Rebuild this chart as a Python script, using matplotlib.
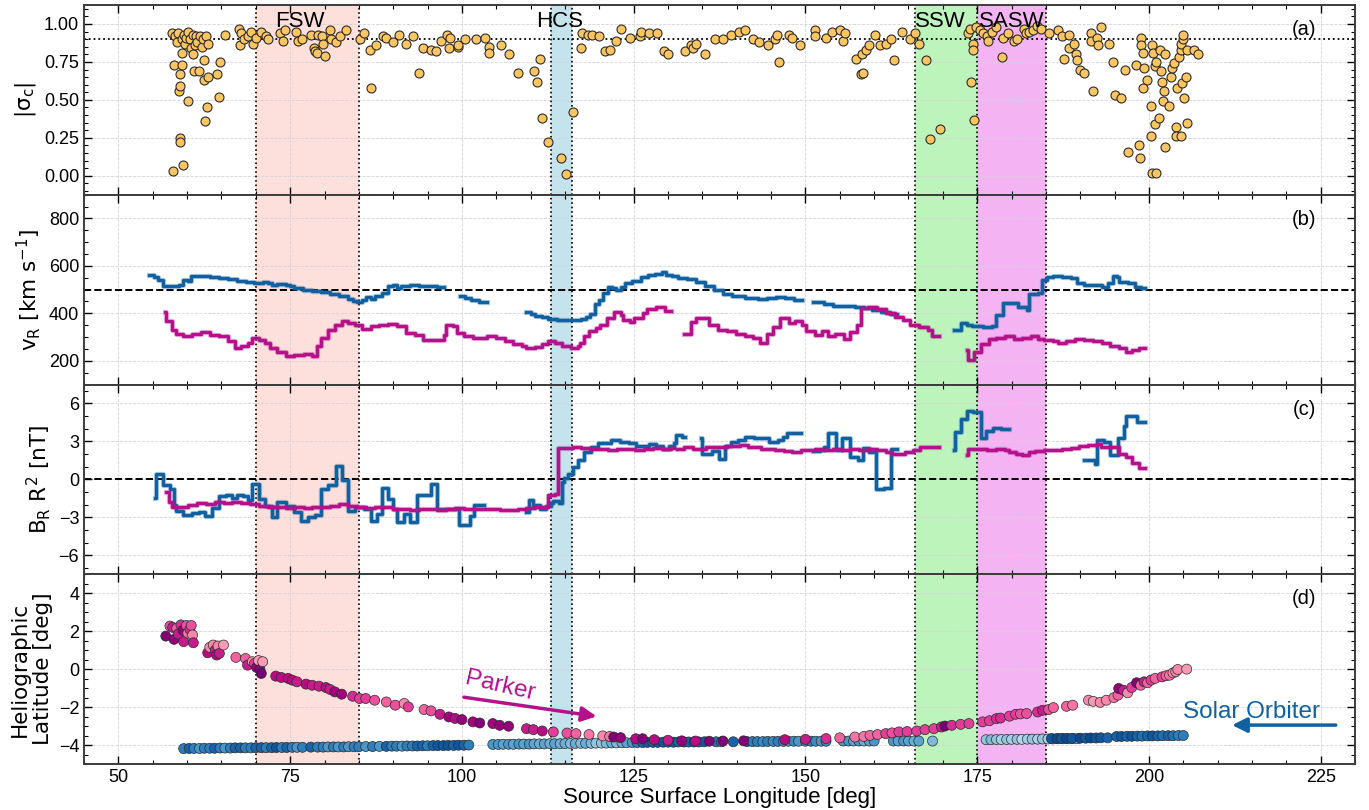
import numpy as np
import matplotlib
matplotlib.use("Agg")
import matplotlib.pyplot as plt
import matplotlib.patheffects as pe
from matplotlib.ticker import AutoMinorLocator, FormatStrFormatter

nan = np.nan

# ---- (a) cross helicity |sigma_c| ----
sig_lon = [57.8, 58.0, 58.1, 58.3, 58.5, 58.7, 58.8, 58.9, 58.9, 59.0, 59.0, 59.2, 59.2, 59.3, 59.4,
           59.5, 59.7, 59.9, 60.1, 60.2, 60.4, 60.6, 60.8, 60.9, 61.0, 61.1, 61.3, 61.5, 61.7, 61.9,
           62.1, 62.3, 62.5, 62.5, 62.6, 62.8, 62.9, 63.1, 63.1, 64.3, 64.7, 64.8, 65.5,
           67.5, 67.7, 67.9, 68.3, 68.8, 69.3, 69.6, 70.0, 70.8, 71.5, 71.8, 73.5, 73.9, 74.2, 75.8,
           76.2, 76.7, 78.1, 78.4, 78.6, 78.9, 79.1, 79.6, 79.8, 80.1, 80.8, 81.0, 81.7, 82.2, 83.2,
           85.1, 85.8, 86.6, 86.8, 87.5, 88.5, 89.0, 90.0, 90.9, 91.9, 92.9, 93.7, 94.4, 95.5, 96.2,
           97.0, 97.9, 98.1, 98.3, 99.4, 99.5, 100.4, 102.0, 103.4, 103.9, 103.9, 105.7, 106.8, 108.2,
           110.5, 110.9, 111.4, 111.7, 112.5, 114.4, 115.1, 116.2, 117.3, 117.5, 118.3, 118.9, 120.0,
           120.8, 121.5, 122.4, 123.1, 124.4, 125.9, 126.1, 127.2, 128.4, 129.4, 130.0, 132.4, 133.4,
           133.7, 134.0, 135.4, 136.8, 138.0, 139.2, 140.3, 141.2, 142.3, 143.3, 144.6, 145.6, 145.8,
           146.2, 147.6, 148.1, 149.2, 151.4, 151.4, 153.0, 153.8, 155.0, 155.4, 155.8, 157.4, 158.1,
           158.3, 158.4, 158.8, 159.2, 160.2, 160.8, 161.8, 162.4, 162.9,
           164.1, 165.2, 165.9, 166.6, 167.5, 168.1, 169.6, 173.6, 173.9, 174.1, 174.4, 174.4, 174.5,
           174.9, 175.4, 175.9, 176.4, 176.6, 177.1, 177.8, 178.6, 178.8, 179.5, 180.4, 180.8, 181.8,
           182.1, 182.6, 183.1, 183.7, 184.3, 185.5, 186.7, 187.3, 187.7, 188.3, 188.4, 189.1, 189.4,
           189.5, 189.9, 190.5, 191.5, 191.6, 191.8, 192.5, 192.6, 193.0, 194.2, 194.7, 195.1, 195.9,
           196.5, 196.9, 198.1, 198.6, 198.7, 198.8, 198.8, 199.1, 199.3, 199.7, 199.1, 200.3, 200.3,
           200.4, 201.1, 200.5, 200.6, 200.9, 201.5, 200.9, 201.1, 201.6, 201.7, 201.9, 202.0, 202.2,
           202.3, 202.3, 202.9, 203.2, 203.4, 203.7, 203.9, 204.0, 204.1, 204.4, 204.6, 204.6, 204.7,
           204.9, 205.0, 204.8, 205.1, 205.4, 205.5, 205.6, 206.5, 207.1]
sig_val = [0.94, 0.03, 0.73, 0.92, 0.88, 0.94, 0.56, 0.59, 0.25, 0.22, 0.67, 0.73, 0.81, 0.90, 0.07,
           0.93, 0.87, 0.91, 0.49, 0.95, 0.90, 0.84, 0.93, 0.80, 0.69, 0.86, 0.92, 0.88, 0.69, 0.92,
           0.85, 0.90, 0.76, 0.63, 0.36, 0.92, 0.45, 0.65, 0.87, 0.67, 0.52, 0.75, 0.93,
           0.97, 0.86, 0.94, 0.90, 0.92, 0.95, 0.87, 0.91, 0.95, 0.92, 0.90, 0.94, 0.89, 0.96, 0.95,
           0.89, 0.90, 0.93, 0.84, 0.82, 0.81, 0.93, 0.92, 0.87, 0.79, 0.96, 0.90, 0.88, 0.92, 0.96,
           0.90, 0.94, 0.83, 0.58, 0.86, 0.92, 0.91, 0.88, 0.93, 0.87, 0.92, 0.68, 0.84, 0.83, 0.82,
           0.89, 0.93, 0.84, 0.91, 0.85, 0.86, 0.90, 0.90, 0.91, 0.85, 0.81, 0.86, 0.80, 0.68,
           0.69, 0.62, 0.77, 0.38, 0.22, 0.12, 0.01, 0.42, 0.84, 0.94, 0.93, 0.93, 0.92,
           0.82, 0.83, 0.89, 0.97, 0.91, 0.92, 0.95, 0.94, 0.94, 0.82, 0.80, 0.82, 0.86,
           0.84, 0.87, 0.80, 0.90, 0.90, 0.93, 0.95, 0.96, 0.90, 0.88, 0.86, 0.90, 0.93,
           0.75, 0.93, 0.91, 0.86, 0.96, 0.92, 0.91, 0.95, 0.96, 0.89, 0.94, 0.77, 0.67,
           0.80, 0.68, 0.83, 0.86, 0.93, 0.86, 0.87, 0.90, 0.76,
           0.95, 0.90, 0.94, 0.87, 0.76, 0.24, 0.31, 0.94, 0.97, 0.62, 0.87, 0.83, 0.37,
           0.98, 0.96, 0.94, 0.92, 0.89, 0.95, 0.98, 0.78, 0.91, 0.94, 0.89, 0.90, 0.97,
           0.94, 0.95, 0.96, 0.99, 0.97, 0.94, 0.96, 0.92, 0.77, 0.84, 0.93, 0.87, 0.80,
           0.76, 0.70, 0.68, 0.94, 0.89, 0.56, 0.91, 0.86, 0.98, 0.87, 0.75, 0.53, 0.51,
           0.70, 0.16, 0.73, 0.20, 0.12, 0.91, 0.86, 0.81, 0.71, 0.63, 0.58, 0.46, 0.26,
           0.02, 0.02, 0.86, 0.81, 0.34, 0.38, 0.72, 0.75, 0.83, 0.69, 0.62, 0.49, 0.56,
           0.19, 0.80, 0.46, 0.65, 0.71, 0.74, 0.32, 0.26, 0.58, 0.78, 0.83, 0.26, 0.87,
           0.90, 0.93, 0.61, 0.51, 0.65, 0.35, 0.83, 0.83, 0.80]

# ---- (b) radial speed, step profiles (nan = data gap) ----
vr_lon_so = [54.5, 55.2, 55.8, 56.5, 57.6, 58.8, 59.4, 60.1, 60.6, 61.7, 63.3, 64.6, 65.9, 67.2, 68.5,
             69.8, 71.1, 71.8, 72.4, 73.1, 74.4, 75.0, 75.6, 76.9, 78.2, 79.5, 80.8, 82.1, 83.4, 84.1,
             84.7, 85.4, 86.0, 86.7, 87.3, 88.3, 89.3, 89.9, 90.6, 91.2, 92.5, 93.8, 95.1, 96.4, 97.4,
             99.7, 100.5, 101.3, 102.5, 103.6,
             109.4, 110.1, 110.7, 111.6, 112.6, 113.9, 115.2, 116.4, 117.4, 118.0, 118.7, 119.3, 120.0,
             120.6, 121.3, 121.9, 122.5, 123.2, 123.8, 124.8, 126.1, 127.1, 128.1, 129.1, 129.7, 130.6,
             131.5, 132.8, 134.1, 135.4, 136.7, 138.0, 139.3, 141.2, 143.1, 144.4, 145.7, 147.0, 148.3,
             149.5,
             151.1, 152.7, 154.0, 155.9, 157.2, 158.5, 159.7, 161.0, 162.3, 163.3,
             171.6, 172.6, 173.5, 174.2, 175.8, 177.2, 177.7, 178.7, 180.3, 180.9, 182.2, 182.5, 183.8,
             184.4, 185.1, 186.0, 187.3, 188.6, 189.6, 190.5, 191.8, 193.1, 194.1, 194.7, 195.3, 195.6,
             196.9, 197.9, 198.8, 199.5]
vr_so = [563, 553, 542, 514, 517, 520, 542, 535, 559, 556, 553, 549, 543, 535, 531,
         528, 531, 526, 521, 525, 518, 514, 507, 500, 495, 489, 482, 475, 462, 451,
         446, 458, 469, 462, 475, 486, 514, 521, 507, 514, 521, 517, 514, 510, nan,
         475, 465, 455, 446, nan,
         406, 398, 390, 384, 376, 373, 373, 370, 375, 384, 398, 440, 458,
         485, 513, 507, 500, 510, 530, 535, 553, 560, 565, 575, 563, 556,
         550, 545, 531, 514, 500, 483, 475, 465, 460, 465, 469, 465, 458,
         nan,
         449, 441, 432, 432, 427, 422, 413, 404, 398, nan,
         328, 359, 352, 345, 342, 345, 393, 445, 442, 428, 414, 482, 485,
         541, 552, 558, 552, 548, 527, 520, 520, 513, 527, 558, 552, 534,
         527, 513, 509, nan]

vr_lon_psp = [56.8, 56.95, 57.8, 58.4, 59.4, 60.7, 62.0, 63.3, 64.6, 65.9, 66.9, 67.9, 68.8, 69.5,
              70.5, 71.4, 72.1, 73.1, 74.4, 75.6, 77.0, 78.2, 78.9, 79.5, 80.5, 81.5, 82.5, 83.4,
              84.4, 85.4, 86.7, 88.0, 89.3, 90.6, 91.8, 93.1, 94.4, 96.4, 97.4, 97.7, 98.7, 99.3,
              100.3, 101.6, 102.9, 103.6, 104.9, 106.2, 107.5, 108.8, 109.4, 110.7, 111.7, 112.6,
              113.6, 114.6, 115.9, 116.9, 117.2, 117.8, 118.5, 119.5, 120.1, 121.1, 122.1, 123.1,
              123.4, 124.4, 125.1, 126.4, 127.0, 128.3, 129.6, 130.5,
              132.3, 133.3, 134.1, 135.4, 136.0, 137.3, 138.6, 139.9, 141.2, 142.4, 143.4, 144.4,
              145.3, 146.3, 147.6, 148.5, 149.5, 150.1, 151.4, 152.4, 153.3, 154.3, 155.6, 156.5,
              157.5, 158.1, 159.1, 160.4, 161.7, 163.0, 164.2, 165.2, 166.5, 167.8, 168.4, 169.5,
              173.5, 173.7, 174.6, 175.6, 176.7, 177.7, 179.0, 180.3, 181.5, 182.8, 183.8, 184.7,
              186.0, 186.7, 187.9, 189.2, 190.5, 191.8, 193.1, 194.4, 195.6, 196.6, 197.6, 198.5,
              199.5]
vr_psp = [404, 366, 331, 314, 303, 314, 320, 310, 303, 282, 254, 261, 275, 296,
          289, 275, 254, 239, 221, 225, 229, 221, 261, 296, 331, 352, 366, 359,
          352, 334, 345, 352, 356, 345, 317, 310, 286, 286, 310, 352, 345, 317,
          303, 296, 296, 303, 296, 282, 272, 264, 254, 258, 272, 282,
          275, 261, 254, 261, 275, 303, 324, 338, 352, 380, 404, 394,
          373, 362, 380, 401, 418, 427, 412, nan,
          314, 362, 380, 380, 352, 331, 324, 314, 303, 296, 275, 314,
          342, 380, 359, 369, 352, 324, 310, 324, 306, 314, 292, 320,
          352, 422, 427, 418, 401, 384, 370, 352, 342, 328, 303, nan,
          244, 204, 235, 272, 292, 296, 303, 292, 296, 303, 292, 286,
          282, 275, 282, 292, 286, 282, 275, 261, 254, 235, 244, 254,
          nan]

# ---- (c) scaled radial field B_R R^2 ----
br_lon_so = [55.3, 55.4, 56.5, 57.5, 58.1, 58.4, 59.4, 60.7, 61.7, 62.6, 63.6, 64.6, 65.6, 66.6, 67.2,
             68.2, 68.8, 69.5, 70.5, 71.4, 72.4, 73.1, 74.4, 75.6, 76.6, 77.6, 78.6, 79.5, 80.5, 81.6,
             82.5, 83.4, 84.4, 85.7, 86.7, 87.7, 88.3, 89.3, 89.9, 90.6, 91.6, 92.5, 93.5, 95.5, 96.4,
             98.3, 99.6, 101.2, 101.8, 103.2,
             109.4, 109.7, 110.4, 111.3, 112.3, 112.9, 113.2, 114.2, 114.5, 114.9, 115.5, 116.2, 116.9,
             117.8, 118.8, 119.8, 120.7, 121.7, 123.0, 124.3, 125.3, 126.2, 127.2, 128.2, 129.2, 130.2,
             130.8, 131.1, 132.1, 132.5,
             134.8, 134.9, 136.4, 137.4, 138.3, 139.1, 140.2, 141.2, 142.5, 143.8, 144.7, 146.0, 146.7,
             147.3, 148.3, 149.4,
             151.1, 152.1, 152.7, 153.3, 154.5, 155.3, 156.5, 157.6, 158.4, 159.3, 160.3, 161.4, 162.4,
             163.4,
             171.6, 171.8, 172.6, 173.5, 174.4, 175.6, 176.3, 177.3, 178.5, 179.6,
             190.5, 192.1, 192.4, 193.4, 194.4, 195.5, 196.3, 196.6, 198.2, 199.5]
br_so = [-1.46, 0.45, -0.48, -0.74, -2.0, -2.52, -2.79, -2.68, -2.6, -2.87, -2.26, -1.35, -1.2, -1.46, -1.27,
         -1.35, -1.62, -0.35, -1.54, -2.07, -3.0, -1.8, -2.07, -2.6, -3.27, -3.0, -2.79, -0.74, -0.48, 1.04,
         -0.03, -2.52, -2.2, -2.34, -3.27, -2.73, -0.66, -1.54, -2.34, -3.4, -2.73, -3.4, -1.27, -0.35, -2.34,
         -2.34, -3.58, -2.87, -1.99, nan,
         -2.6, -1.62, -1.99, -2.34, -2.07, -1.9, -1.73, -1.9, -0.21, 0.13, 0.45, 0.98, 1.51,
         2.18, 2.58, 2.84, 2.9, 3.1, 2.97, 2.9, 2.63, 2.63, 2.79, 2.63, 2.44, 2.63,
         2.84, 3.5, 3.32, nan,
         3.3, 1.99, 2.26, 1.65, 2.63, 2.97, 3.1, 3.37, 3.3, 3.24, 2.97, 3.1, 3.37,
         3.69, 3.64, nan,
         2.26, 2.31, 2.58, 3.64, 2.36, 3.24, 1.73, 1.51, 2.52, 2.18, -0.74, -0.66, 2.44,
         nan,
         2.31, 3.77, 4.75, 5.44, 5.36, 3.24, 3.85, 4.04, 3.96, nan,
         1.51, 1.25, 3.1, 2.97, 1.91, 3.24, 4.2, 5.0, 4.57, nan]

br_lon_psp = [56.9, 57.4, 57.8, 58.8, 60.1, 61.4, 62.7, 64.0, 65.3, 66.6, 67.9, 69.2, 70.5, 71.8, 73.1,
              74.4, 75.7, 77.0, 78.2, 79.5, 80.8, 82.1, 83.4, 84.7, 86.0, 87.3, 88.6, 89.9, 91.2, 92.5,
              93.8, 95.1, 96.4, 97.7, 99.0, 100.3, 101.6, 102.9, 104.2, 105.5, 106.8, 108.1, 109.4,
              110.7, 112.0, 112.6, 113.6, 114.0, 116.1, 117.4, 118.7, 120.0, 121.3, 122.6, 123.9,
              125.2, 126.5, 127.8, 129.1, 130.4, 130.9,
              131.3, 132.3, 133.6, 135.6, 138.6, 140.5, 141.7, 143.6, 145.5, 146.9, 148.1, 149.4,
              151.4, 152.7, 154.0, 155.3, 156.5, 157.8, 159.1, 160.4, 161.7, 162.6, 163.5, 164.5,
              165.7, 166.7, 169.5,
              173.5, 173.6, 175.1, 176.4, 177.7, 179.0, 179.6, 180.6, 181.5, 182.5, 183.4, 184.7,
              186.0, 187.3, 188.6, 189.8, 191.1, 192.4, 193.0, 195.6, 196.6, 197.6, 198.5, 199.5]
br_psp = [-1.0, -1.8, -2.2, -2.15, -1.99, -1.88, -1.94, -1.8, -1.88, -1.8, -1.88, -1.94, -2.07, -2.15, -2.2,
          -2.26, -2.2, -2.26, -2.2, -2.15, -2.07, -1.94, -2.07, -2.15, -2.26, -2.15, -2.2, -2.34, -2.34, -2.42,
          -2.34, -2.34, -2.42, -2.34, -2.26, -2.34, -2.34, -2.34, -2.34, -2.42, -2.42, -2.34, -2.26,
          -2.2, -2.15, -1.27, -1.14, 2.52, 2.58, 2.52, 2.44, 2.44, 2.36, 2.44, 2.44,
          2.36, 2.44, 2.52, 2.44, 2.52, nan,
          2.44, 2.58, 2.44, 2.58, 2.63, 2.71, 2.58, 2.44, 2.36, 2.26, 2.18, 2.31,
          2.44, 2.36, 2.44, 2.36, 2.44, 2.36, 2.44, 2.31, 2.18, 1.99, 2.04, 2.18,
          2.31, 2.58, nan,
          1.91, 2.44, 2.44, 2.31, 2.44, 2.36, 2.18, 1.99, 1.91, 2.18, 2.26, 2.31,
          2.36, 2.44, 2.52, 2.63, 2.71, 2.79, 2.58, 1.99, 1.78, 1.3, 0.93, nan]

# ---- (d) source-surface footpoints ----
psp_lon = [56.9, 57.5, 57.9, 58.1, 58.5, 58.7, 59.1, 59.4, 59.5, 59.9, 60.1, 60.4, 60.6, 60.8, 60.9,
           63.0, 63.3, 63.8, 64.1, 64.3, 64.5, 64.7, 65.3,
           67.1, 68.5, 68.8, 69.5, 69.8, 70.1, 70.4, 70.6, 70.8, 71.0,
           72.9, 73.7, 74.7, 75.3, 76.0, 77.3, 78.2, 79.2, 80.2, 80.8, 81.5, 82.5, 84.1, 85.1, 86.0,
           87.3, 89.0, 90.3, 91.6, 92.2, 94.5, 95.5, 96.8, 98.1, 99.0, 100.0, 101.6, 102.6, 104.5,
           105.5, 106.8, 109.4, 110.4, 111.7, 113.3, 115.3, 116.6, 118.5, 120.5, 121.5, 122.1, 123.1,
           125.3, 126.3, 128.0, 130.0, 132.0, 134.0, 136.0, 138.0, 141.0, 147.0, 150.0, 153.0, 155.0,
           157.2, 158.5, 159.4, 160.5, 161.7, 162.6, 163.6, 164.8, 166.2, 167.4, 168.7, 169.8, 170.3,
           171.3, 172.6, 173.8, 175.8, 176.8, 177.8, 178.4, 179.7, 180.6, 181.3, 182.2, 183.8, 184.5,
           185.4, 186.1, 188.0, 188.9, 191.2, 191.9, 192.9, 193.8, 194.9, 195.5, 195.6, 196.3, 196.9,
           197.5, 198.2, 198.8, 199.3, 199.8, 200.3, 200.9, 201.9, 202.5, 203.0, 203.5, 203.9, 204.2,
           205.5]
psp_lat = [1.74, 2.27, 2.20, 1.57, 2.15, 1.85, 2.33, 2.05, 1.45, 2.30, 1.90, 2.10, 2.30, 1.80, 1.39,
           0.86, 1.15, 1.27, 1.00, 0.74, 1.22, 0.83, 1.27,
           0.62, 0.56, 0.21, 0.39, 0.30, 0.09, 0.45, -0.02, -0.23, 0.39,
           -0.37, -0.44, -0.49, -0.58, -0.67, -0.79, -0.85, -0.90, -0.97, -1.07, -1.20, -1.32, -1.43, -1.55, -1.55,
           -1.64, -1.73, -1.90, -1.81, -1.99, -2.13, -2.20, -2.38, -2.52, -2.60, -2.66, -2.78, -2.84, -2.87,
           -2.96, -3.01, -3.14, -3.19, -3.26, -3.31, -3.37, -3.40, -3.45, -3.52, -3.55, -3.58, -3.61,
           -3.67, -3.67, -3.72, -3.75, -3.78, -3.79, -3.80, -3.79, -3.78, -3.72, -3.70, -3.66, -3.62,
           -3.58, -3.55, -3.49, -3.45, -3.40, -3.36, -3.31, -3.29, -3.26, -3.19, -3.14, -3.05, -3.00,
           -2.96, -2.91, -2.87, -2.78, -2.72, -2.61, -2.58, -2.48, -2.38, -2.36, -2.34, -2.26, -2.17,
           -2.13, -2.03, -1.96, -1.90, -1.64, -1.70, -1.75, -1.64, -1.50, -1.37, -1.02, -1.11, -1.25,
           -0.97, -0.72, -0.85, -0.67, -0.72, -0.58, -0.49, -0.41, -0.35, -0.32, -0.20, -0.14, -0.02,
           0.00]
psp_shade = [0.95, 0.6, 0.75, 0.9, 0.55, 0.75, 0.7, 0.9, 0.75, 0.6, 0.5, 0.7, 0.6, 0.45, 0.75,
             0.8, 0.45, 0.45, 0.75, 0.8, 0.45, 0.75, 0.4,
             0.55, 0.55, 0.75, 0.4, 0.65, 0.9, 0.4, 0.95, 1.0, 0.4,
             0.8, 0.8, 0.8, 0.8, 0.75, 0.8, 0.75, 0.75, 0.8, 0.75, 0.85, 0.85, 0.7, 0.65, 0.65,
             0.6, 0.55, 0.6, 0.45, 0.65, 0.55, 0.6, 0.75, 0.85, 0.8, 0.9, 0.85, 0.95, 0.85,
             0.9, 0.9, 0.75, 0.75, 0.8, 0.65, 0.6, 0.55, 0.5, 0.45, 0.5, 0.95, 0.9,
             0.8, 0.95, 0.8, 0.75, 0.9, 0.8, 0.95, 0.95, 0.95, 0.8, 0.75, 0.7, 0.55,
             0.5, 0.5, 0.55, 0.55, 0.65, 0.6, 0.65, 0.65, 0.65, 0.65, 0.65, 0.75, 1.0,
             0.7, 0.65, 0.65, 0.65, 0.65, 0.7, 0.7, 0.65, 0.65, 0.6, 0.6, 0.7, 0.75,
             0.6, 0.55, 0.55, 0.5, 0.45, 0.4, 0.45, 0.45, 0.5, 0.55, 0.9, 0.75, 0.45,
             0.65, 0.95, 0.55, 0.75, 0.55, 0.65, 0.55, 0.65, 0.55, 0.5, 0.45, 0.45, 0.45,
             0.4]

so_lon = [59.5, 60.3, 61.0, 61.8, 62.5, 63.3, 64.0, 64.8, 65.5, 66.3, 67.0, 67.8, 68.5, 69.3, 70.0,
          70.8, 71.5, 72.3, 73.0, 73.8, 74.5, 75.3, 76.0, 76.8, 78.0, 79.0, 79.8, 80.5, 81.3, 82.0,
          82.8, 83.5, 84.3, 85.0, 86.0, 87.0, 88.0, 89.0, 89.8, 90.5, 91.3, 92.0, 92.8, 93.5, 94.3,
          95.0, 95.8, 96.5, 97.3, 98.0, 98.8, 99.5, 100.3, 101.0,
          104.5, 105.3, 106.0, 106.8, 107.5, 108.3, 109.0, 109.8, 110.5, 111.3, 112.0, 112.8, 113.5,
          114.3, 115.0, 115.8, 116.5, 117.3, 118.0, 118.8, 119.5, 120.3, 121.0, 121.8, 122.5, 123.3,
          124.0, 124.8, 125.5, 126.3, 127.0, 127.8, 128.5, 129.3, 130.0, 130.8, 131.5, 132.3, 133.0,
          133.8, 134.5, 135.3,
          137.0, 137.8, 139.5, 141.5, 142.3, 143.0, 143.8, 144.5, 145.3, 146.0, 146.8, 147.5, 148.3,
          149.0, 150.0, 150.8, 151.5, 152.3, 153.0,
          155.5, 156.3, 157.0, 157.8, 158.5, 159.3, 160.0,
          162.8, 163.5, 164.3, 165.0, 165.8, 166.5, 168.5,
          176.3, 177.0, 177.8, 178.5, 179.3, 180.0, 180.8, 181.5, 182.3, 183.0, 183.8, 184.5, 185.3,
          186.0, 186.8, 187.5, 188.3, 189.0, 189.6,
          185.8, 186.6, 187.3, 188.0, 188.8, 190.0, 190.8, 191.5, 192.3, 193.0, 194.0, 195.3, 196.0,
          196.8, 197.5, 198.3, 199.0, 199.8, 200.5, 201.3, 202.0, 202.8, 203.5, 204.3, 205.0]
so_lat = [-4.19, -4.18, -4.18, -4.18, -4.17, -4.17, -4.17, -4.16, -4.16, -4.16, -4.15, -4.15, -4.15, -4.15, -4.14,
          -4.14, -4.14, -4.14, -4.13, -4.13, -4.13, -4.12, -4.12, -4.12, -4.11, -4.11, -4.11, -4.10, -4.10, -4.10,
          -4.10, -4.09, -4.09, -4.09, -4.08, -4.08, -4.07, -4.07, -4.06, -4.06, -4.06, -4.05, -4.05, -4.05, -4.04,
          -4.04, -4.03, -4.03, -4.03, -4.02, -4.02, -4.01, -4.01, -4.00,
          -3.97, -3.97, -3.96, -3.96, -3.96, -3.95, -3.95, -3.95, -3.94, -3.94, -3.94, -3.93, -3.93,
          -3.93, -3.92, -3.92, -3.92, -3.91, -3.91, -3.91, -3.90, -3.90, -3.90, -3.89, -3.89, -3.88,
          -3.88, -3.87, -3.87, -3.87, -3.86, -3.86, -3.86, -3.85, -3.85, -3.85, -3.84, -3.84, -3.84,
          -3.84, -3.84, -3.83,
          -3.83, -3.83, -3.83, -3.82, -3.82, -3.82, -3.82, -3.81, -3.81, -3.81, -3.81, -3.80, -3.80,
          -3.80, -3.80, -3.80, -3.80, -3.80, -3.80,
          -3.79, -3.79, -3.79, -3.79, -3.79, -3.79, -3.79,
          -3.79, -3.79, -3.79, -3.79, -3.79, -3.79, -3.79,
          -3.72, -3.72, -3.71, -3.71, -3.71, -3.70, -3.70, -3.70, -3.69, -3.69, -3.69, -3.68, -3.68,
          -3.68, -3.67, -3.67, -3.67, -3.66, -3.66,
          -3.66, -3.66, -3.65, -3.65, -3.65, -3.64, -3.64, -3.63, -3.63, -3.62, -3.62, -3.55, -3.55,
          -3.54, -3.54, -3.53, -3.53, -3.52, -3.52, -3.52, -3.51, -3.51, -3.51, -3.50, -3.50]
so_shade = [0.7, 0.8, 0.7, 0.6, 0.7, 0.7, 0.8, 0.7, 0.6, 0.7, 0.8, 0.8, 0.7, 0.7, 0.8,
            0.8, 0.7, 0.8, 0.85, 0.7, 0.8, 0.7, 0.6, 0.7, 0.8, 0.7, 0.7, 0.6, 0.7, 0.6,
            0.7, 0.6, 0.7, 0.7, 0.6, 0.7, 0.6, 0.8, 0.7, 0.7, 0.6, 0.7, 0.7, 0.8, 0.8,
            0.7, 0.8, 0.85, 0.85, 0.85, 0.8, 0.85, 0.8, 0.7,
            0.6, 0.6, 0.55, 0.6, 0.55, 0.6, 0.55, 0.6, 0.55, 0.5, 0.55, 0.5, 0.55,
            0.5, 0.5, 0.45, 0.5, 0.45, 0.5, 0.45, 0.4, 0.4, 0.45, 0.5, 0.45, 0.5,
            0.55, 0.6, 0.7, 0.8, 0.85, 0.8, 0.85, 0.85, 0.8, 0.85, 0.8, 0.85, 0.8,
            0.85, 0.8, 0.85,
            0.75, 0.7, 0.8, 0.8, 0.7, 0.7, 0.65, 0.7, 0.65, 0.7, 0.65, 0.6, 0.65,
            0.6, 0.65, 0.7, 0.65, 0.6, 0.65,
            0.6, 0.6, 0.55, 0.6, 0.5, 0.55, 0.6,
            0.6, 0.55, 0.6, 0.55, 0.5, 0.55, 0.45,
            0.4, 0.45, 0.4, 0.35, 0.4, 0.35, 0.4, 0.3, 0.35, 0.4, 0.35, 0.4, 0.35,
            0.45, 0.4, 0.35, 0.4, 0.35, 0.4,
            0.85, 0.9, 0.85, 0.9, 0.85, 0.9, 0.85, 0.9, 0.85, 0.85, 0.8, 0.8, 0.85,
            0.8, 0.85, 0.8, 0.75, 0.8, 0.85, 0.8, 0.75, 0.8, 0.75, 0.7, 0.7]

# solar wind intervals: name, start, end
regions = [("FSW", 70, 85), ("HCS", 113, 116), ("SSW", 166, 175), ("SASW", 175, 185)]
region_colors = {"FSW": ("salmon", 0.25), "HCS": ("lightblue", 0.7),
                 "SSW": ("lightgreen", 0.6), "SASW": ("violet", 0.6)}
region_label_x = {"FSW": 76.4, "HCS": 114.2, "SSW": 169.6, "SASW": 180.1}

BLUE = "#11609f"
MAGENTA = "#b4118b"
TICK_FONT = "Liberation Sans"
LABEL_FONT = "DejaVu Sans"

plt.rcParams["font.family"] = [TICK_FONT, "DejaVu Sans"]
plt.rcParams["mathtext.default"] = "regular"
plt.rcParams["xtick.direction"] = "in"
plt.rcParams["ytick.direction"] = "in"
plt.rcParams["xtick.top"] = True
plt.rcParams["ytick.right"] = True
plt.rcParams["axes.axisbelow"] = True

fig, axes = plt.subplots(4, 1, sharex=True, figsize=(13.69, 8.10), dpi=100,
                         gridspec_kw=dict(hspace=0))
fig.subplots_adjust(left=0.0614, right=0.9898, top=0.9938, bottom=0.0568)
ax_a, ax_b, ax_c, ax_d = axes


def step_line(ax, x, y, color):
    ax.step(x, y, where="post", color=color, lw=2.4, zorder=3,
            path_effects=[pe.Stroke(linewidth=3.8, foreground=color, alpha=0.3), pe.Normal()])


for ax in axes:
    for name, x0, x1 in regions:
        col, alpha = region_colors[name]
        ax.axvspan(x0, x1, color=col, alpha=alpha, lw=0, zorder=0.5)
    for x in sorted({b for _, a, b in regions} | {a for _, a, b in regions}):
        ax.axvline(x, color="k", ls=":", lw=1.2, zorder=1)
    ax.grid(True, which="major", color="#d4d4d4", ls="--", lw=0.6)
    ax.tick_params(which="major", length=6, width=1, labelsize=13)
    ax.tick_params(which="minor", length=3, width=0.8)
    ax.xaxis.set_minor_locator(AutoMinorLocator(5))
    for sp in ax.spines.values():
        sp.set_linewidth(1.4)
        sp.set_color("#3c3c3c")

# (a)
ax_a.scatter(sig_lon, sig_val, s=42, facecolor="#fec560", edgecolor="#2b2b2b", lw=0.8, zorder=4)
ax_a.axhline(0.9, color="k", ls=":", lw=1.3, zorder=2)
ax_a.set_ylim(-0.125, 1.125)
ax_a.set_yticks([0, 0.25, 0.5, 0.75, 1.0])
ax_a.yaxis.set_major_formatter(FormatStrFormatter("%.2f"))
ax_a.yaxis.set_minor_locator(AutoMinorLocator(5))
ax_a.set_ylabel(r"$|\sigma_c|$", family=LABEL_FONT, fontsize=15.5)
for name, x0, x1 in regions:
    ax_a.text(region_label_x[name], 0.912, name, transform=ax_a.get_xaxis_transform(),
              ha="center", va="center", fontsize=16, zorder=5)

# (b)
step_line(ax_b, vr_lon_so, vr_so, BLUE)
step_line(ax_b, vr_lon_psp, vr_psp, MAGENTA)
ax_b.axhline(500, color="k", ls="--", lw=1.4, zorder=2)
ax_b.set_ylim(100, 900)
ax_b.set_yticks([200, 400, 600, 800])
ax_b.yaxis.set_minor_locator(AutoMinorLocator(4))
ax_b.set_ylabel(r"$v_R$ [km s$^{-1}$]", family=LABEL_FONT, fontsize=15.5)

# (c)
step_line(ax_c, br_lon_so, br_so, BLUE)
step_line(ax_c, br_lon_psp, br_psp, MAGENTA)
ax_c.axhline(0, color="k", ls="--", lw=1.4, zorder=2)
ax_c.set_ylim(-7.5, 7.5)
ax_c.set_yticks([-6, -3, 0, 3, 6])
ax_c.yaxis.set_minor_locator(AutoMinorLocator(3))
ax_c.set_ylabel(r"$B_R\ R^2$ [nT]", family=LABEL_FONT, fontsize=15.5)

# (d)
ax_d.scatter(so_lon, so_lat, c=so_shade, cmap="Blues", vmin=0, vmax=1, s=52,
             edgecolor="#2b2b2b", lw=0.5, zorder=3)
ax_d.scatter(psp_lon, psp_lat, c=psp_shade, cmap="RdPu", vmin=-0.05, vmax=1.12, s=52,
             edgecolor="#2b2b2b", lw=0.5, zorder=4)
ax_d.annotate("", xy=(120.0, -2.51), xytext=(99.9, -1.46),
              arrowprops=dict(arrowstyle="-|>", color=MAGENTA, lw=2.5, mutation_scale=22))
ax_d.text(105.6, -0.89, "Parker", color=MAGENTA, fontsize=17.5, rotation=-13,
          ha="center", va="center")
ax_d.annotate("", xy=(211.7, -2.95), xytext=(227.6, -2.95),
              arrowprops=dict(arrowstyle="-|>", color=BLUE, lw=2.5, mutation_scale=22))
ax_d.text(215.0, -2.26, "Solar Orbiter", color=BLUE, fontsize=17.5, ha="center", va="center")
ax_d.set_ylim(-5, 5)
ax_d.set_yticks([-4, -2, 0, 2, 4])
ax_d.yaxis.set_minor_locator(AutoMinorLocator(4))
ax_d.set_ylabel("Heliographic\nLatitude [deg]", family=LABEL_FONT, fontsize=15.5)

ax_d.set_xlim(45, 230)
ax_d.set_xticks([50, 75, 100, 125, 150, 175, 200, 225])
ax_d.set_xlabel("Source Surface Longitude [deg]", fontsize=16, labelpad=1)

for ax, tag in zip(axes, "abcd"):
    ax.text(0.96, 0.87, "(%s)" % tag, transform=ax.transAxes, ha="center", va="center",
            fontsize=14.5, zorder=6)

fig.savefig("out.png", dpi=100)
